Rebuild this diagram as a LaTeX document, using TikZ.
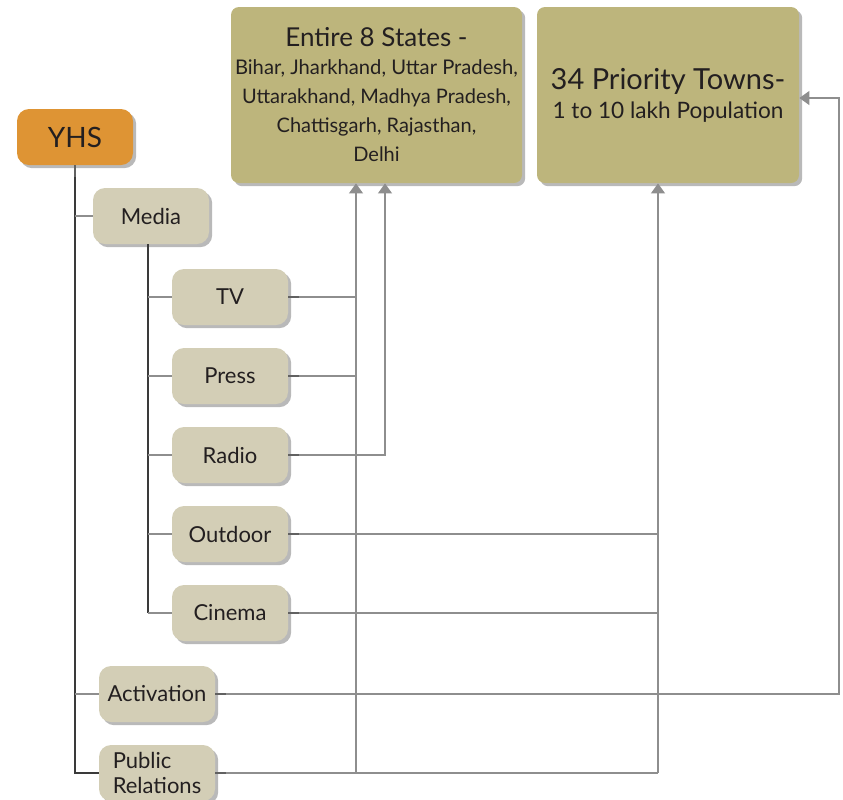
\documentclass[tikz,border=0pt]{standalone}
\usepackage{fontspec}
\setmainfont{Lato}
\usetikzlibrary{shadows,arrows.meta}
\definecolor{yhsorange}{HTML}{DE9434}
\definecolor{itembg}{HTML}{D3CEB6}
\definecolor{areabg}{HTML}{BDB57C}
\definecolor{linegray}{HTML}{8E8E8E}
\definecolor{trunkgray}{HTML}{3A3A3A}
\definecolor{txt}{HTML}{231F20}
\tikzset{
  box/.style={rounded corners=6pt, text=txt, align=center, inner sep=2pt,
    drop shadow={shadow xshift=1.6pt, shadow yshift=-1.6pt, opacity=.55, fill=gray}},
  item/.style={box, fill=itembg, minimum width=58pt, minimum height=28pt,
    font=\fontsize{11}{12.5}\selectfont},
  area/.style={box, rounded corners=4pt, fill=areabg, minimum height=88pt,
    font=\fontsize{10}{14.5}\selectfont},
  link/.style={draw=linegray, line width=0.6pt},
  trunk/.style={draw=trunkgray, line width=0.6pt},
  nub/.style={draw=trunkgray!80, line width=1.4pt},
  tip/.style={link, -{Triangle[width=7pt,length=5pt,fill=linegray]}}
}
\begin{document}
\begin{tikzpicture}[x=0.5pt,y=-0.5pt]
  \useasboundingbox (0,0) rectangle (843,800);
  % target areas
  \node[area, minimum width=145.5pt] (states) at (376.5,95)
    {\fontsize{13}{14.5}\selectfont Entire 8 States -\\[-0.5pt]
     \fontsize{10.1}{14.5}\selectfont Bihar, Jharkhand, Uttar Pradesh,\\
     Uttarakhand, Madhya Pradesh,\\ Chattisgarh, Rajasthan,\\ Delhi};
  \node[area, minimum width=131pt] (towns) at (668,95)
    {\fontsize{14.5}{14.5}\selectfont 34 Priority Towns-\\
     \fontsize{11.3}{14.5}\selectfont 1 to 10 lakh Population};
  % tree
  \node[box, fill=yhsorange, minimum width=58pt, minimum height=28pt,
    font=\fontsize{14}{16}\selectfont] (yhs) at (75,137) {YHS};
  \node[item] (media) at (151,216) {Media};
  \node[item] (tv) at (230,297) {TV};
  \node[item] (press) at (230,376) {Press};
  \node[item] (radio) at (230,455) {Radio};
  \node[item] (outdoor) at (230,534) {Outdoor};
  \node[item] (cinema) at (230,613) {Cinema};
  \node[item] (act) at (157,694) {Activation};
  \node[item, align=left] (pr) at (157,773) {Public\\Relations};
  \coordinate (mx) at (148,0);
  \coordinate (sa) at (356,0);
  \coordinate (sb) at (385,0);
  \coordinate (pa) at (658,0);
  \coordinate (rx) at (839,0);
  % left trunks
  \draw[trunk] (yhs.south) -- (yhs.south |- pr.west) -- (pr.west);
  \draw[link] (yhs.south |- media.west) -- (media.west);
  \draw[link] (yhs.south |- act.west) -- (act.west);
  \draw[trunk] (mx |- media.south) -- (mx |- cinema.west);
  \foreach \n in {tv,press,radio,outdoor,cinema}
    \draw[link] (mx |- \n.west) -- (\n.west);
  \draw[nub] (yhs.south) -- ++(0,12);
  % right connectors
  \draw[link] (tv.east) -- (tv.east -| sa);
  \draw[link] (press.east) -- (press.east -| sa);
  \draw[tip] (radio.east) -| (sb |- states.south);
  \draw[link] (outdoor.east) -- (outdoor.east -| pa);
  \draw[link] (cinema.east) -- (cinema.east -| pa);
  \draw[link] (pr.east) -- (pr.east -| pa);
  \draw[tip] (pr.east -| sa) -- (sa |- states.south);
  \draw[tip] (pr.east -| pa) -- (pa |- towns.south);
  \draw[tip] (act.east) -- (act.east -| rx) |- ([yshift=-1.5pt]towns.east);
  \foreach \n in {tv,press,radio,outdoor,cinema,act,pr}
    \draw[nub] (\n.east) -- ++(11,0);
\end{tikzpicture}
\end{document}
